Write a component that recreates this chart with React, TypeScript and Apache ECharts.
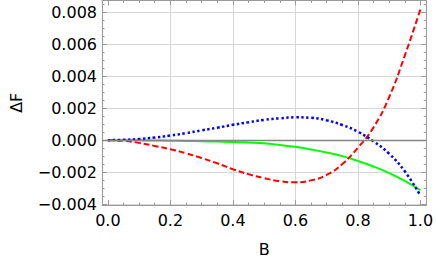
import React, { useEffect, useRef } from "react";
import * as echarts from "echarts";

const B = [0, 0.05, 0.1, 0.15, 0.2, 0.25, 0.3, 0.35, 0.4, 0.45, 0.5, 0.55, 0.6, 0.65, 0.7, 0.75, 0.8, 0.85, 0.9, 0.95, 1.0];
const redDF = [0, -0.00004, -0.00017, -0.00036, -0.00057, -0.00082, -0.00112, -0.00145, -0.00182, -0.00213, -0.00238, -0.00257, -0.00264, -0.00252, -0.00218, -0.0015, -0.00047, 0.0008, 0.0027, 0.0053, 0.0082];
const blueDF = [0, 0.00002, 0.00007, 0.00016, 0.00029, 0.00044, 0.00061, 0.00078, 0.00096, 0.00112, 0.00127, 0.00137, 0.00143, 0.0014, 0.00124, 0.00095, 0.00053, -0.00008, -0.00085, -0.00195, -0.00348];
const greenDF = [0, 0, -0.00001, -0.00002, -0.00003, -0.00005, -0.00007, -0.00009, -0.00011, -0.00015, -0.0002, -0.0003, -0.00042, -0.00058, -0.00077, -0.001, -0.0013, -0.00165, -0.00206, -0.00255, -0.00314];

const xMajor = [0, 0.2, 0.4, 0.6, 0.8, 1.0];
const xMinor = [0.05, 0.1, 0.15, 0.25, 0.3, 0.35, 0.45, 0.5, 0.55, 0.65, 0.7, 0.75, 0.85, 0.9, 0.95];
const yMajor = [-0.004, -0.002, 0, 0.002, 0.004, 0.006, 0.008];
const yMinor = [-0.0035, -0.003, -0.0025, -0.0015, -0.001, -0.0005, 0.0005, 0.001, 0.0015, 0.0025, 0.003, 0.0035, 0.0045, 0.005, 0.0055, 0.0065, 0.007, 0.0075, 0.0085];
const xGrid = [0.2, 0.4, 0.6, 0.8];
const yGrid = [-0.004, -0.002, 0.002, 0.004, 0.006, 0.008];

const X_MIN = -0.01875;
const X_MAX = 1.01875;
const Y_MIN = -0.0040625;
const Y_MAX = 0.00875;

const FONT = "DejaVu Sans";
const FRAME = "#9a9a9a";
const GRIDC = "#d6d6d6";

function xAxisDef(position: "top" | "bottom", minor: boolean, labels: boolean) {
  return {
    type: "value",
    position,
    min: X_MIN,
    max: X_MAX,
    axisLine: { show: !minor, onZero: false, lineStyle: { color: FRAME, width: 1 } },
    axisTick: {
      show: true,
      inside: true,
      length: minor ? 2.5 : 5,
      customValues: minor ? xMinor : xMajor,
      lineStyle: { color: FRAME, width: 1 },
    },
    axisLabel: labels
      ? {
          show: true,
          customValues: xMajor,
          margin: 7,
          color: "#000",
          fontFamily: FONT,
          fontSize: 16,
          formatter: (v: number) => v.toFixed(1),
        }
      : { show: false },
    splitLine: { show: false },
    ...(labels
      ? {
          name: "B",
          nameLocation: "middle",
          nameGap: 36,
          nameTextStyle: { color: "#000", fontFamily: FONT, fontSize: 16 },
        }
      : {}),
  };
}

function yAxisDef(position: "left" | "right", minor: boolean, labels: boolean) {
  return {
    type: "value",
    position,
    min: Y_MIN,
    max: Y_MAX,
    axisLine: { show: !minor, onZero: false, lineStyle: { color: FRAME, width: 1 } },
    axisTick: {
      show: true,
      inside: true,
      length: minor ? 2.5 : 5,
      customValues: minor ? yMinor : yMajor,
      lineStyle: { color: FRAME, width: 1 },
    },
    axisLabel: labels
      ? {
          show: true,
          customValues: yMajor,
          margin: 5,
          color: "#000",
          fontFamily: FONT,
          fontSize: 16,
          formatter: (v: number) => (v < -1e-12 ? "\u2212" : "") + Math.abs(v).toFixed(3),
        }
      : { show: false },
    splitLine: { show: false },
    ...(labels
      ? {
          name: "\u0394F",
          nameLocation: "middle",
          nameGap: 78,
          nameRotate: 90,
          nameTextStyle: { color: "#000", fontFamily: FONT, fontSize: 16 },
        }
      : {}),
  };
}

const xGridAxis = {
  type: "value",
  position: "bottom",
  min: X_MIN,
  max: X_MAX,
  axisLine: { show: false, onZero: false },
  axisTick: { show: false, customValues: xGrid },
  axisLabel: { show: false, customValues: xGrid },
  splitLine: { show: true, lineStyle: { color: GRIDC, width: 1 } },
};

const yGridAxis = {
  type: "value",
  position: "left",
  min: Y_MIN,
  max: Y_MAX,
  axisLine: { show: false, onZero: false },
  axisTick: { show: false, customValues: yGrid },
  axisLabel: { show: false, customValues: yGrid },
  splitLine: { show: true, lineStyle: { color: GRIDC, width: 1 } },
};

export default function App() {
  const ref = useRef<HTMLDivElement>(null);
  useEffect(() => {
    if (!ref.current) return;
    const chart = echarts.init(ref.current, undefined, { renderer: "svg" });
    chart.setOption({
      animation: false,
      grid: { left: 95.5, right: 8.5, top: 0.5, bottom: 56.5, containLabel: false },
      xAxis: [
        xAxisDef("bottom", false, true),
        xAxisDef("bottom", true, false),
        xAxisDef("top", false, false),
        xAxisDef("top", true, false),
        xGridAxis,
      ],
      yAxis: [
        yAxisDef("left", false, true),
        yAxisDef("left", true, false),
        yAxisDef("right", false, false),
        yAxisDef("right", true, false),
        yGridAxis,
      ],
      series: [
        {
          name: "green",
          type: "line",
          z: 2,
          data: B.map((b, i) => [b, greenDF[i]]),
          showSymbol: false,
          smooth: true,
          lineStyle: { color: "#00ff00", width: 2, type: "solid" },
          markLine: {
            silent: true,
            precision: 6,
            symbol: ["none", "none"],
            label: { show: false },
            lineStyle: { color: "#858585", width: 1.4, type: "solid" },
            data: [{ yAxis: 0 }],
          },
        },
        {
          name: "red",
          type: "line",
          z: 3,
          data: B.map((b, i) => [b, redDF[i]]),
          showSymbol: false,
          smooth: true,
          lineStyle: { color: "#ff0000", width: 2, type: [6, 3] },
        },
        {
          name: "blue",
          type: "line",
          z: 4,
          data: B.map((b, i) => [b, blueDF[i]]),
          showSymbol: false,
          smooth: true,
          lineStyle: { color: "#0000ff", width: 2.5, type: [2.5, 2.5] },
        },
      ],
    });
    return () => chart.dispose();
  }, []);
  return <div ref={ref} style={{ width: 436, height: 262, position: "absolute", left: 0, top: 0 }} />;
}
